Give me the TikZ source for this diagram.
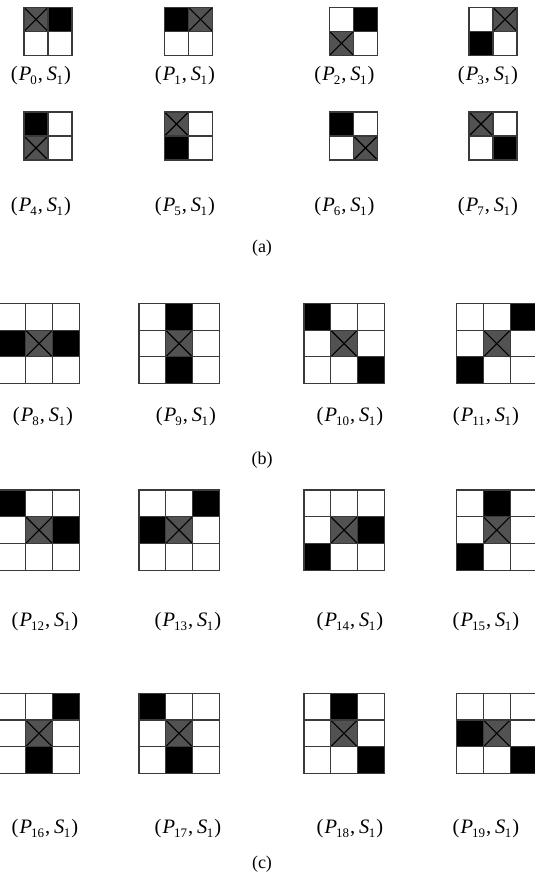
\documentclass[tikz,border=0pt]{standalone}
\usepackage{fontspec}
\setmainfont{Liberation Serif}
\definecolor{xgray}{HTML}{525252}
\definecolor{gline}{HTML}{3A3A3A}
\newcommand\sbs[1]{\raisebox{-0.4ex}{\fontsize{13}{13}\selectfont #1}}
\newcommand\plab[1]{(\kern1pt\textit{P}\kern-1pt\sbs{#1}\kern1pt,\kern4pt\textit{S}\kern-0.5pt\sbs{1}\kern1pt)}
% #1 x, #2 y, #3 n, #4 cell, #5 black cells c/r, #6 gray col, #7 gray row
\newcommand\panel[7]{%
  \foreach \c/\r in {#5} {\fill[black] ({#1+\c*#4},{#2+\r*#4}) rectangle ++(#4,#4);}
  \fill[xgray] ({#1+#6*#4},{#2+#7*#4}) rectangle ++(#4,#4);
  \draw[crossline] ({#1+#6*#4},{#2+#7*#4}) -- ++(#4,#4);
  \draw[crossline] ({#1+#6*#4+#4},{#2+#7*#4}) -- ++(-#4,#4);
  \foreach \k in {0,...,#3} {
    \draw[gridline] ({#1+\k*#4},#2) -- ++(0,{#3*#4});
    \draw[gridline] (#1,{#2+\k*#4}) -- ++({#3*#4},0);
  }%
}
\tikzset{
  gridline/.style={draw=gline,line width=1.1pt,line cap=rect},
  crossline/.style={draw=black,line width=1.1pt},
  lab/.style={font=\fontsize{20.5}{20.5}\selectfont,inner sep=0pt},
  captext/.style={font=\fontsize{18}{18}\selectfont,inner sep=0pt}
}
\begin{document}
\begin{tikzpicture}[x=1pt,y=-1pt]
\useasboundingbox (0,0) rectangle (535,879);
% (a) row 1
\panel{24}{7.3}{2}{24}{1/0}{0}{0}
\panel{164.5}{7.3}{2}{24}{0/0}{1}{0}
\panel{329.5}{7.3}{2}{24}{1/0}{0}{1}
\panel{469}{7.3}{2}{24}{0/1}{1}{0}
\node[lab] (l0) at (41,76) {\plab{0}};
\node[lab] (l1) at (185,76) {\plab{1}};
\node[lab] (l2) at (344.5,76) {\plab{2}};
\node[lab] (l3) at (488,76) {\plab{3}};
% (a) row 2
\panel{24}{112}{2}{24}{0/0}{0}{1}
\panel{164.5}{112}{2}{24}{0/1}{0}{0}
\panel{329.5}{112}{2}{24}{0/0}{1}{1}
\panel{469}{112}{2}{24}{1/1}{0}{0}
\node[lab] (l4) at (41,206.5) {\plab{4}};
\node[lab] (l5) at (185,206.5) {\plab{5}};
\node[lab] (l6) at (344.5,206.5) {\plab{6}};
\node[lab] (l7) at (488,206.5) {\plab{7}};
\node[captext] (ca) at (262,248) {(a)};
% (b)
\panel{-1}{303.5}{3}{26.7}{0/1,2/1}{1}{1}
\panel{139}{303.5}{3}{26.7}{1/0,1/2}{1}{1}
\panel{304}{303.5}{3}{26.7}{0/0,2/2}{1}{1}
\panel{456.7}{303.5}{3}{26.7}{2/0,0/2}{1}{1}
\node[lab] (l8) at (43,416.5) {\plab{8}};
\node[lab] (l9) at (186,416.5) {\plab{9}};
\node[lab] (l10) at (350,416.5) {\plab{10}};
\node[lab] (l11) at (486,416.5) {\plab{11}};
\node[captext] (cb) at (262,460) {(b)};
% (c) row 1
\panel{-1}{490}{3}{26.7}{0/0,2/1}{1}{1}
\panel{139}{490}{3}{26.7}{2/0,0/1}{1}{1}
\panel{304}{490}{3}{26.7}{2/1,0/2}{1}{1}
\panel{456.7}{490}{3}{26.7}{1/0,0/2}{1}{1}
\node[lab] (l12) at (45,621.7) {\plab{12}};
\node[lab] (l13) at (188,621.7) {\plab{13}};
\node[lab] (l14) at (350,621.7) {\plab{14}};
\node[lab] (l15) at (486,621.7) {\plab{15}};
% (c) row 2
\panel{-1}{693.3}{3}{26.7}{2/0,1/2}{1}{1}
\panel{139}{693.3}{3}{26.7}{0/0,1/2}{1}{1}
\panel{304}{693.3}{3}{26.7}{1/0,2/2}{1}{1}
\panel{456.7}{693.3}{3}{26.7}{0/1,2/2}{1}{1}
\node[lab] (l16) at (45,828.3) {\plab{16}};
\node[lab] (l17) at (188,828.3) {\plab{17}};
\node[lab] (l18) at (350,828.3) {\plab{18}};
\node[lab] (l19) at (486,828.3) {\plab{19}};
\node[captext] (cc) at (262,864) {(c)};
\end{tikzpicture}
\end{document}
